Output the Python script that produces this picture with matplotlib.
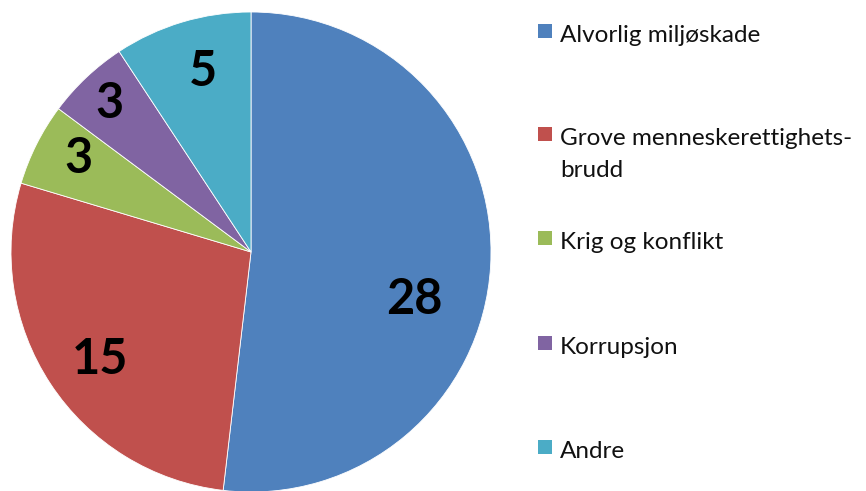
import numpy as np
import matplotlib.pyplot as plt
from matplotlib.patches import Rectangle

categories = ['Alvorlig miljøskade', 'Grove menneskerettighets-\nbrudd',
              'Krig og konflikt', 'Korrupsjon', 'Andre']
values = [28, 15, 3, 3, 5]
colors = ['#4F81BD', '#C0504D', '#9BBB59', '#8064A2', '#4BACC6']

plt.rcParams['font.family'] = ['Lato', 'DejaVu Sans']

W, H = 866, 491
fig = plt.figure(figsize=(W / 100, H / 100), dpi=100)

# pie: centre (251, 252) px, radius 240 px
cx, cy, r = 251, 252, 240
ax = fig.add_axes([(cx - r) / W, (H - cy - r) / H, 2 * r / W, 2 * r / H])
wedges, texts = ax.pie(values, colors=colors, startangle=90, counterclock=False,
                       labels=[str(v) for v in values], labeldistance=0.75,
                       wedgeprops=dict(edgecolor='white', linewidth=0.6))
ax.set_xlim(-1, 1)
ax.set_ylim(-1, 1)
ax.set_aspect('equal')

# excel "best fit" label spots (fraction of radius)
label_pos = [(0.68, -0.20), (-0.63, -0.45), (-0.72, 0.39), (-0.59, 0.62), (-0.20, 0.75)]
for t, (x, y) in zip(texts, label_pos):
    t.set_position((x, y))
    t.set_ha('center')
    t.set_va('center')
    t.set_fontsize(35)
    t.set_fontweight('bold')
    t.set_color('black')

# legend drawn by hand
marker_top = [24, 127, 231, 336, 440]
for lab, col, top in zip(categories, colors, marker_top):
    fig.add_artist(Rectangle((538 / W, 1 - (top + 14) / H), 14 / W, 14 / H,
                             transform=fig.transFigure, facecolor=col, edgecolor='none'))
    fig.text(560 / W, 1 - (top + 1) / H, lab, fontsize=17.5, va='top', ha='left',
             color='#111111', linespacing=1.65)

plt.savefig('out.png', dpi=100)
